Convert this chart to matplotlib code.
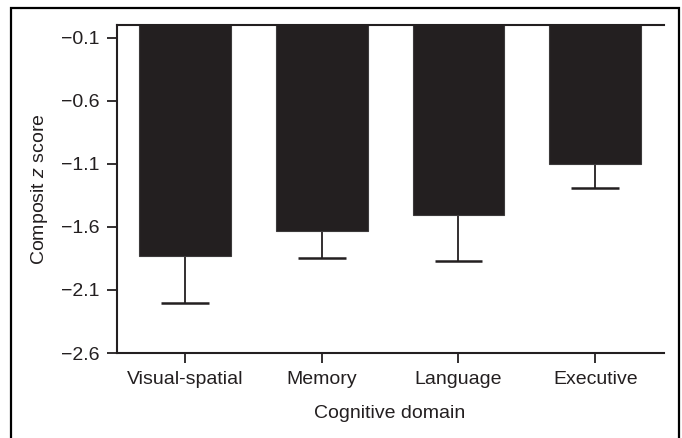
import matplotlib.pyplot as plt
from matplotlib.patches import Rectangle
import numpy as np

domains = ["Visual-spatial", "Memory", "Language", "Executive"]
means = [-1.83, -1.63, -1.51, -1.105]
sd_low = [0.37, 0.22, 0.36, 0.19]
yticks = [-0.1, -0.6, -1.1, -1.6, -2.1, -2.6]

plt.rcParams["font.family"] = ["Liberation Sans", "DejaVu Sans"]
plt.rcParams["mathtext.fontset"] = "custom"
plt.rcParams["mathtext.it"] = "Liberation Sans:italic"
plt.rcParams["mathtext.rm"] = "Liberation Sans"

dark = "#231f20"
fig = plt.figure(figsize=(6.82, 4.38), dpi=100)
ax = fig.add_axes([0.171, 0.194, 0.802, 0.749])

x = np.arange(len(domains))
m = np.array(means)
e = np.array(sd_low)
ax.bar(x, m, width=0.67, color=dark, edgecolor="#3c3a3b", linewidth=0.8, zorder=2)
ax.vlines(x, m, m - e, color=dark, linewidth=1.3, zorder=1)
ax.hlines(m - e, x - 0.175, x + 0.175, color=dark, linewidth=1.8, zorder=1)

ax.set_xlim(-0.5, 3.5)
ax.set_ylim(-2.6, 0)
ax.set_yticks(yticks)
ax.set_yticklabels([f"{v:.1f}".replace("-", "\u2212") for v in yticks])
ax.set_xticks(x)
ax.set_xticklabels(domains)

for s in ["left", "bottom", "top"]:
    ax.spines[s].set_linewidth(1.5)
    ax.spines[s].set_color(dark)
ax.spines["right"].set_visible(False)
ax.tick_params(axis="both", direction="out", length=7, width=1.3, color=dark,
               labelsize=14, labelcolor=dark)
ax.tick_params(axis="y", pad=5)
ax.tick_params(axis="x", pad=6)

ax.set_xlabel("Cognitive domain", fontsize=14, color=dark, labelpad=12)
ax.set_ylabel(r"Composit $\it{z}$ score", fontsize=14, color=dark, labelpad=8)

# outer frame (no bottom edge visible)
fig.add_artist(Rectangle((11 / 682, -0.1), (679 - 11) / 682, 1.1 - 8 / 438,
                         transform=fig.transFigure, fill=False,
                         edgecolor="black", linewidth=1.6, clip_on=False))

fig.savefig("out.png", dpi=100)
